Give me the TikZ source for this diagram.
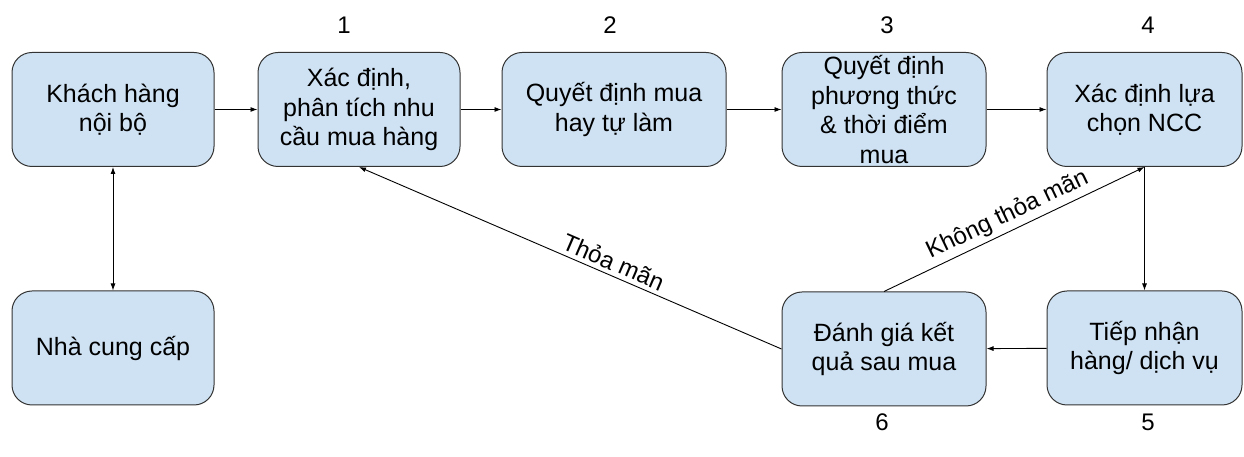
\documentclass[tikz,border=0pt]{standalone}
\usepackage{fontspec}
\setmainfont{Liberation Sans}
\usetikzlibrary{arrows.meta,positioning}

\definecolor{boxblue}{HTML}{CFE2F3}
\definecolor{boxline}{HTML}{333333}

\begin{document}
\begin{tikzpicture}[x=1pt, y=1pt,
  box/.style={draw=boxline, fill=boxblue, rounded corners=20pt, line width=1pt,
    minimum height=114pt, inner sep=0pt, align=center,
    font=\fontsize{25}{29.5}\selectfont},
  num/.style={font=\fontsize{24}{29}\selectfont, inner sep=0pt},
  arr/.style={-{Latex[length=7pt, width=5pt]}, line width=0.9pt},
  lbl/.style={font=\fontsize{24}{28}\selectfont, sloped, above, inner sep=4pt}]
  % page size of the reference
  \useasboundingbox (0,0) rectangle (1244,457);

  % Top row
  \node[box, minimum width=202pt] (khach) at (113,347.5) {Khách hàng\\nội bộ};
  \node[box, minimum width=202pt] (xacdinh) at (359,347.5) {Xác định,\\phân tích nhu\\cầu mua hàng};
  \node[box, minimum width=224pt] (muahay) at (614,347.5) {Quyết định mua\\hay tự làm};
  \node[box, minimum width=204pt] (phthuc) at (884,347.5) {Quyết định\\phương thức\\\& thời điểm\\mua};
  \node[box, minimum width=195pt] (ncc) at (1144.5,347.5) {Xác định lựa\\chọn NCC};

  % Bottom row
  \node[box, minimum width=202pt] (nhacc) at (113,109) {Nhà cung cấp};
  \node[box, minimum width=204pt] (danhgia) at (884,108) {Đánh giá kết\\quả sau mua};
  \node[box, minimum width=195pt] (tiepnhan) at (1144.5,109) {Tiếp nhận\\hàng/ dịch vụ};

  % Step numbers
  \node[num] (n1) at (344,432) {1};
  \node[num] (n2) at (610,432) {2};
  \node[num] (n3) at (887,432) {3};
  \node[num] (n4) at (1148,432) {4};
  \node[num] (n6) at (882,35) {6};
  \node[num] (n5) at (1148,35) {5};

  % Arrows
  \draw[arr] (khach) -- (xacdinh);
  \draw[arr] (xacdinh) -- (muahay);
  \draw[arr] (muahay) -- (phthuc);
  \draw[arr] (phthuc) -- (ncc);
  \draw[arr, {Latex[length=7pt, width=5pt]}-{Latex[length=7pt, width=5pt]}] (khach) -- (nhacc);
  \draw[arr] (ncc) -- (tiepnhan);
  \draw[arr] (tiepnhan) -- (danhgia);
  \draw[arr] (danhgia.west) -- node[lbl, pos=0.41] {Thỏa mãn} (xacdinh.south);
  \draw[arr] (danhgia.north) -- node[lbl, pos=0.5] {Không thỏa mãn} (ncc.south);
\end{tikzpicture}
\end{document}
